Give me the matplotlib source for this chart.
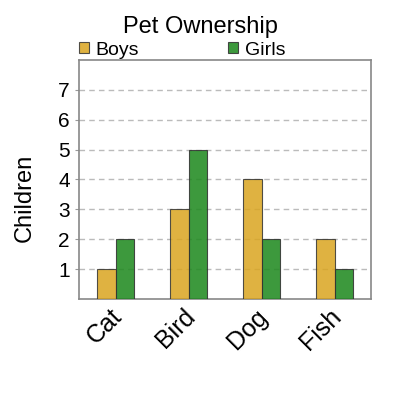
import matplotlib
matplotlib.use("Agg")
import matplotlib.pyplot as plt
import matplotlib.transforms as mtrans
import numpy as np

pets = ["Cat", "Bird", "Dog", "Fish"]
boys = [1, 3, 4, 2]
girls = [2, 5, 2, 1]

plt.rcParams["font.family"] = ["Liberation Sans", "DejaVu Sans"]

fig = plt.figure(figsize=(4, 4), dpi=100)
ax = fig.add_axes([0.1975, 0.2525, 0.73, 0.5975])

x = np.arange(len(pets))
w = 0.25
ax.bar(x - w / 2, boys, w, color="#DAA520", alpha=0.85, edgecolor="#333333",
       linewidth=0.8, label="Boys", zorder=3)
ax.bar(x + w / 2, girls, w, color="#228B22", alpha=0.88, edgecolor="#333333",
       linewidth=0.8, label="Girls", zorder=3)

ax.set_xlim(-0.5, 3.5)
ax.set_ylim(0, 8)
ax.set_yticks(range(1, 8))
ax.set_xticks(x, labels=[""] * len(pets))
# category labels drawn by hand so they can be nudged a little
shift = mtrans.ScaledTranslation(-0.06, -0.055, fig.dpi_scale_trans)
for xi, name in zip(x, pets):
    ax.text(xi, 0, name, transform=ax.get_xaxis_transform() + shift,
            rotation=45, ha="right", va="top", rotation_mode="anchor", fontsize=18)
ax.tick_params(axis="y", labelsize=15, length=3, color="#999999")
ax.tick_params(axis="x", length=0)
ax.yaxis.grid(True, linestyle=(0, (4, 3)), color="#bbbbbb", linewidth=1, zorder=0)
for s in ax.spines.values():
    s.set_color("#888888")
    s.set_linewidth(1.2)

ax.set_ylabel("Children", fontsize=17)
ax.yaxis.set_label_coords(-0.148, 0.423)
fig.text(0.5, 0.932, "Pet Ownership", ha="center", va="center", fontsize=17)
ax.legend(loc="lower left", bbox_to_anchor=(0.0, 1.005), ncol=2, frameon=False,
          fontsize=14, handlelength=0.5, handleheight=0.5, handletextpad=0.35,
          columnspacing=4.6, borderpad=0, borderaxespad=0)

fig.savefig("out.png", dpi=100)
